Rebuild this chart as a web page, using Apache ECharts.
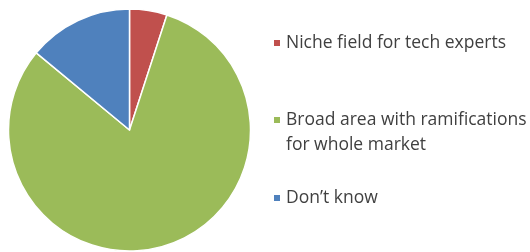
<!DOCTYPE html>
<html><head><meta charset="utf-8">
<script src="https://cdn.jsdelivr.net/npm/echarts@6/dist/echarts.min.js"></script>
<style>html,body{margin:0;padding:0;background:#fff}#c{width:530px;height:252px}</style>
</head><body><div id="c"></div>
<script>
const categories = ['Niche field for tech experts', 'Broad area with ramifications\nfor whole market', 'Don\u2019t know'];
const values = [5, 81, 14];
const colors = ['#C0504D', '#9BBB59', '#4F81BD'];

const chart = echarts.init(document.getElementById('c'), null, {renderer: 'canvas'});
const tops = [30.5, 82.5, 185.5];
const legends = categories.map((name, i) => ({
  data: [name],
  orient: 'vertical',
  left: 272,
  top: tops[i],
  padding: 0,
  itemWidth: 8,
  itemHeight: 8,
  itemGap: 0,
  itemTextGap: 7,
  icon: 'rect',
  selectedMode: false,
  formatter: n => (n.indexOf('\n') >= 0 ? ' \n' + n : n),
  textStyle: {
    fontFamily: 'Open Sans',
    fontSize: 17.5,
    color: '#404040',
    lineHeight: 25
  }
}));
chart.setOption({
  animation: false,
  color: colors,
  legend: legends,
  series: [{
    type: 'pie',
    center: [129.5, 130],
    radius: 121,
    startAngle: 90,
    clockwise: true,
    label: {show: false},
    labelLine: {show: false},
    itemStyle: {borderColor: '#fff', borderWidth: 1.5},
    emphasis: {disabled: true},
    data: categories.map((n, i) => ({name: n, value: values[i]}))
  }]
});
</script></body></html>
